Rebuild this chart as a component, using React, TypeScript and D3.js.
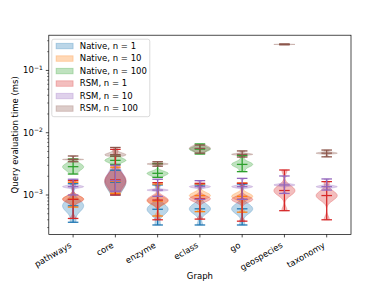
import React, { useRef, useEffect } from 'react';
import * as d3 from 'd3';

const graphs = ['pathways', 'core', 'enzyme', 'eclass', 'go', 'geospecies', 'taxonomy'];
const seriesNames = ['Native, n = 1', 'Native, n = 10', 'Native, n = 100', 'RSM, n = 1', 'RSM, n = 10', 'RSM, n = 100'];
const colors = ['#1f77b4', '#ff7f0e', '#2ca02c', '#d62728', '#9467bd', '#8c564b'];

// query times (ms), a few readings per graph; null = not measured
const native1 = [
  [3.65e-4, 5.5e-4, 6.2e-4, 6.7e-4, 7.2e-4, 8.0e-4, 1.52e-3],
  [1.0e-3, 1.3e-3, 1.45e-3, 1.6e-3, 1.75e-3, 2.0e-3, 2.5e-3],
  [3.3e-4, 5.0e-4, 5.5e-4, 5.9e-4, 6.3e-4, 7.0e-4, 1.45e-3],
  [3.3e-4, 5.2e-4, 5.6e-4, 6.0e-4, 6.4e-4, 7.0e-4, 1.45e-3],
  [3.3e-4, 5.2e-4, 5.6e-4, 6.0e-4, 6.4e-4, 7.0e-4, 1.5e-3],
  null,
  null
];
const native10 = [
  [6.4e-4, 8.0e-4, 8.4e-4, 8.6e-4, 9.0e-4, 9.6e-4, 1.6e-3],
  [1.05e-3, 1.35e-3, 1.5e-3, 1.65e-3, 1.8e-3, 2.05e-3, 2.8e-3],
  [4.6e-4, 7.2e-4, 7.7e-4, 8.0e-4, 8.4e-4, 9.0e-4, 1.5e-3],
  [5.4e-4, 8.9e-4, 9.4e-4, 9.8e-4, 1.02e-3, 1.08e-3, 1.5e-3],
  [5.3e-4, 8.6e-4, 9.1e-4, 9.5e-4, 9.9e-4, 1.05e-3, 1.56e-3],
  null,
  null
];
const native100 = [
  [2.17e-3, 2.55e-3, 2.7e-3, 2.85e-3, 2.95e-3, 3.15e-3, 3.78e-3],
  [3.1e-3, 3.4e-3, 3.5e-3, 3.6e-3, 3.7e-3, 3.85e-3, 4.2e-3],
  [1.92e-3, 2.1e-3, 2.17e-3, 2.23e-3, 2.29e-3, 2.4e-3, 3.2e-3],
  [4.55e-3, 5.1e-3, 5.3e-3, 5.45e-3, 5.6e-3, 5.85e-3, 6.6e-3],
  [2.37e-3, 2.85e-3, 3.0e-3, 3.1e-3, 3.2e-3, 3.4e-3, 4.28e-3],
  null,
  null
];
const rsm1 = [
  [4.2e-4, 7.8e-4, 8.2e-4, 8.5e-4, 8.9e-4, 9.6e-4, 1.7e-3],
  [1.0e-3, 1.4e-3, 1.6e-3, 1.75e-3, 1.9e-3, 2.2e-3, 5.4e-3],
  [4.0e-4, 7.4e-4, 7.9e-4, 8.3e-4, 8.7e-4, 9.4e-4, 1.58e-3],
  [4.1e-4, 8.0e-4, 8.4e-4, 8.7e-4, 9.0e-4, 9.6e-4, 1.54e-3],
  [3.8e-4, 7.8e-4, 8.2e-4, 8.5e-4, 8.8e-4, 9.4e-4, 1.54e-3],
  [5.6e-4, 1.02e-3, 1.1e-3, 1.18e-3, 1.25e-3, 1.38e-3, 2.52e-3],
  [4.0e-4, 8.4e-4, 9.2e-4, 9.8e-4, 1.04e-3, 1.12e-3, 1.64e-3]
];
const rsm10 = [
  [1.0e-3, 1.31e-3, 1.34e-3, 1.36e-3, 1.38e-3, 1.42e-3, 1.79e-3],
  [1.15e-3, 1.4e-3, 1.55e-3, 1.7e-3, 1.9e-3, 2.2e-3, 3.0e-3],
  [9.5e-4, 1.17e-3, 1.19e-3, 1.2e-3, 1.21e-3, 1.24e-3, 1.79e-3],
  [8.5e-4, 1.31e-3, 1.34e-3, 1.36e-3, 1.38e-3, 1.42e-3, 1.7e-3],
  [8.5e-4, 1.31e-3, 1.34e-3, 1.36e-3, 1.38e-3, 1.42e-3, 1.85e-3],
  [1.06e-3, 1.41e-3, 1.43e-3, 1.45e-3, 1.47e-3, 1.51e-3, 2.02e-3],
  [1.2e-3, 1.32e-3, 1.34e-3, 1.36e-3, 1.38e-3, 1.42e-3, 1.81e-3]
];
const rsm100 = [
  [3.42e-3, 3.66e-3, 3.7e-3, 3.72e-3, 3.74e-3, 3.78e-3, 4.23e-3],
  [4.2e-3, 4.35e-3, 4.4e-3, 4.45e-3, 4.6e-3, 4.9e-3, 5.8e-3],
  [2.9e-3, 3.08e-3, 3.12e-3, 3.15e-3, 3.18e-3, 3.24e-3, 3.42e-3],
  [4.7e-3, 5.2e-3, 5.4e-3, 5.6e-3, 5.75e-3, 5.95e-3, 6.35e-3],
  [4.07e-3, 4.4e-3, 4.45e-3, 4.5e-3, 4.55e-3, 4.65e-3, 5.1e-3],
  [0.258, 0.2605, 0.2615, 0.262, 0.2625, 0.2635, 0.266],
  [4.1e-3, 4.6e-3, 4.65e-3, 4.7e-3, 4.75e-3, 4.85e-3, 5.27e-3]
];
const allSeries = [native1, native10, native100, rsm1, rsm10, rsm100];
const yTicks = [1e-3, 1e-2, 1e-1];

// gaussian kde on log10 values, evaluated between min and max (like violinplot)
function violinStats(samples: number[]) {
  const logs = samples.map(Math.log10).sort(d3.ascending);
  const n = logs.length;
  const sd = d3.deviation(logs) || 1e-6;
  const iqr = (d3.quantileSorted(logs, 0.75)! - d3.quantileSorted(logs, 0.25)!) / 1.34;
  const bw = 1.3 * Math.min(sd, iqr || sd) * Math.pow(n, -1 / 5);
  const lo = logs[0];
  const hi = logs[n - 1];
  const pts = d3.range(100).map(i => {
    const l = lo + (hi - lo) * i / 99;
    const dens = d3.sum(logs, s => Math.exp(-0.5 * ((l - s) / bw) ** 2));
    return { v: Math.pow(10, l), dens };
  });
  const maxD = d3.max(pts, p => p.dens)!;
  pts.forEach(p => { p.dens = p.dens / maxD; });
  return { pts, lo: d3.min(samples)!, hi: d3.max(samples)!, median: d3.median(samples)! };
}

const App: React.FC = () => {
  const ref = useRef<SVGSVGElement>(null);

  useEffect(() => {
    const W = 390, H = 293;
    const margin = { top: 35.2, right: 39, bottom: 58.6, left: 48.8 };
    const width = W - margin.left - margin.right;
    const height = H - margin.top - margin.bottom;
    const font = 'DejaVu Sans, sans-serif';

    const root = d3.select(ref.current);
    root.selectAll('*').remove();
    root.attr('width', W).attr('height', H);

    const svg = root.append('g').attr('transform', `translate(${margin.left},${margin.top})`);

    const x = d3.scaleLinear().domain([0.425, 7.575]).range([0, width]);
    const y = d3.scaleLog().domain([2.33e-4, 0.368]).range([height, 0]);
    const unit = x(2) - x(1);

    // bodies first (zorder 1), then lines
    allSeries.forEach((series, si) => {
      series.forEach((samples, gi) => {
        if (!samples) return;
        const st = violinStats(samples);
        const cx = x(gi + 1);
        const area = d3.area<{ v: number; dens: number }>()
          .x0(d => cx - d.dens * 0.25 * unit)
          .x1(d => cx + d.dens * 0.25 * unit)
          .y(d => y(d.v));
        svg.append('path')
          .attr('d', area(st.pts))
          .attr('fill', colors[si])
          .attr('fill-opacity', 0.3)
          .attr('stroke', colors[si])
          .attr('stroke-opacity', 0.3)
          .attr('stroke-width', 0.85);
      });
    });

    allSeries.forEach((series, si) => {
      const stats = series.map((s, gi) => s ? { gi, ...violinStats(s) } : null).filter(Boolean) as any[];
      const cap = 0.125 * unit;
      const line = (x1: number, y1: number, x2: number, y2: number) =>
        svg.append('line')
          .attr('x1', x1).attr('y1', y1).attr('x2', x2).attr('y2', y2)
          .attr('stroke', colors[si]).attr('stroke-width', 1.27);
      stats.forEach(st => { const cx = x(st.gi + 1); line(cx - cap, y(st.hi), cx + cap, y(st.hi)); });
      stats.forEach(st => { const cx = x(st.gi + 1); line(cx - cap, y(st.lo), cx + cap, y(st.lo)); });
      stats.forEach(st => { const cx = x(st.gi + 1); line(cx, y(st.lo), cx, y(st.hi)); });
      stats.forEach(st => { const cx = x(st.gi + 1); line(cx - cap, y(st.median), cx + cap, y(st.median)); });
    });

    // frame
    svg.append('rect')
      .attr('width', width).attr('height', height)
      .attr('fill', 'none').attr('stroke', '#000').attr('stroke-width', 0.7);

    // x axis
    const xAxis = svg.append('g').attr('transform', `translate(0,${height})`);
    graphs.forEach((g, i) => {
      const px = x(i + 1);
      xAxis.append('line').attr('x1', px).attr('x2', px).attr('y1', 0).attr('y2', 3)
        .attr('stroke', '#000').attr('stroke-width', 0.7);
      xAxis.append('text')
        .attr('transform', `translate(${px - 1},${12.5}) rotate(-30)`)
        .attr('text-anchor', 'end')
        .attr('font-family', font).attr('font-size', 8.5)
        .text(g);
    });

    // y axis, major and minor ticks
    const minor: number[] = [];
    [-4, -3, -2, -1].forEach(e => d3.range(2, 10).forEach(m => {
      const v = m * Math.pow(10, e);
      if (v > y.domain()[0] && v < y.domain()[1]) minor.push(v);
    }));
    minor.forEach(v => {
      svg.append('line').attr('x1', -1.7).attr('x2', 0).attr('y1', y(v)).attr('y2', y(v))
        .attr('stroke', '#000').attr('stroke-width', 0.5);
    });
    yTicks.forEach(v => {
      svg.append('line').attr('x1', -3).attr('x2', 0).attr('y1', y(v)).attr('y2', y(v))
        .attr('stroke', '#000').attr('stroke-width', 0.7);
      const t = svg.append('text')
        .attr('x', -6).attr('y', y(v) + 3)
        .attr('text-anchor', 'end')
        .attr('font-family', font).attr('font-size', 8.5);
      t.append('tspan').text('10');
      t.append('tspan').attr('dy', -3.5).attr('font-size', 6).text('\u2212' + Math.round(-Math.log10(v)));
    });

    // axis labels
    svg.append('text')
      .attr('transform', `translate(${-margin.left + 18},${height / 2}) rotate(-90)`)
      .attr('text-anchor', 'middle')
      .attr('font-family', font).attr('font-size', 8.5)
      .text('Query evaluation time (ms)');
    svg.append('text')
      .attr('x', width / 2).attr('y', height + 45)
      .attr('text-anchor', 'middle')
      .attr('font-family', font).attr('font-size', 8.5)
      .text('Graph');

    // legend
    const lg = svg.append('g').attr('transform', 'translate(3,4)');
    lg.append('rect')
      .attr('width', 98).attr('height', 77.5).attr('rx', 2)
      .attr('fill', '#fff').attr('fill-opacity', 0.8)
      .attr('stroke', '#ccc').attr('stroke-width', 0.7);
    seriesNames.forEach((name, i) => {
      const cy = 6.6 + i * 12.5;
      lg.append('rect')
        .attr('x', 4.3).attr('y', cy - 2.5).attr('width', 17).attr('height', 5.5)
        .attr('fill', colors[i]).attr('fill-opacity', 0.3)
        .attr('stroke', colors[i]).attr('stroke-opacity', 0.3).attr('stroke-width', 0.85);
      lg.append('text')
        .attr('x', 28).attr('y', cy + 3)
        .attr('font-family', font).attr('font-size', 8.5)
        .text(name);
    });
  }, []);

  return (
    <div style={{ position: 'absolute', left: 0, top: 0 }}>
      <svg ref={ref}></svg>
    </div>
  );
};

export default App;
